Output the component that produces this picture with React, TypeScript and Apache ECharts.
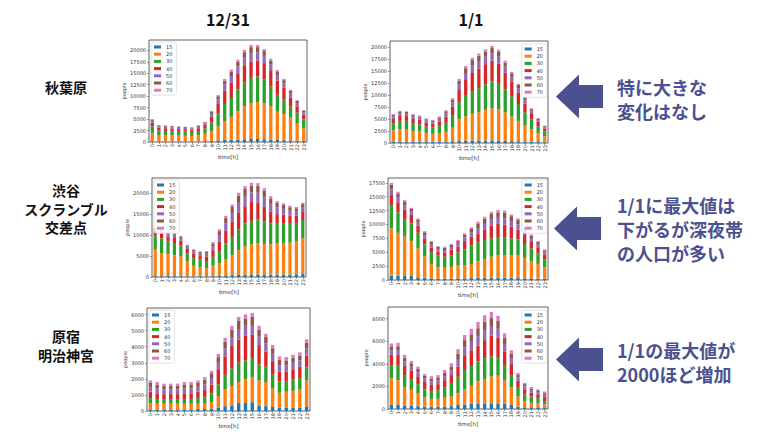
import React, { useEffect, useRef } from "react";
import * as echarts from "echarts";

const HOURS = ["0","1","2","3","4","5","6","7","8","9","10","11","12","13","14","15","16","17","18","19","20","21","22","23"];
const SERIES_NAMES = ["15", "20", "30", "40", "50", "60", "70"];
const COLORS = ["#1f77b4", "#ff7f0e", "#2ca02c", "#d62728", "#9467bd", "#8c564b", "#e377c2"];

// 秋葉原 12/31
const akiba1231_15 = [150,120,110,110,100,100,100,110,150,250,350,450,500,550,600,650,650,600,500,450,400,350,300,250];
const akiba1231_20 = [1850,1280,1300,1300,1300,1250,1200,1300,1650,2100,3050,4050,5000,6150,7200,7850,8050,7800,7300,6150,5700,4950,3700,2750];
const akiba1231_30 = [1400,1100,1000,1000,900,950,900,1000,1200,1900,2900,3800,4100,4800,5200,5500,5600,5300,4300,3700,3200,2400,2400,1900];
const akiba1231_40 = [800,600,600,500,500,500,500,600,700,1300,2000,2900,3300,3500,3600,3600,3500,3500,3400,3100,2500,2000,1400,1100];
const akiba1231_50 = [400,300,300,300,300,250,250,300,350,600,1000,1300,1500,1500,1800,1800,1700,1600,1400,1200,1000,900,700,500];
const akiba1231_60 = [300,250,250,250,250,200,200,250,250,500,700,900,1000,1000,1200,1300,1200,1100,900,800,700,600,500,350];
const akiba1231_70 = [100,70,70,70,70,70,60,70,100,150,250,350,400,450,500,500,450,400,350,300,250,200,150,100];

// 秋葉原 1/1
const akiba0101_15 = [300,300,300,300,250,250,250,250,300,350,450,450,500,500,500,550,500,450,400,350,300,250,200,150];
const akiba0101_20 = [2300,2600,2500,2200,2150,1850,1650,1750,2000,2850,4450,5050,5600,5900,6400,6650,6500,5950,5100,4250,3300,2650,1800,1250];
const akiba0101_30 = [1500,1700,1800,1500,1500,1300,1300,1500,1900,2600,3600,4300,4700,5000,5300,5600,5300,4700,4200,3500,2800,2000,1400,1000];
const akiba0101_40 = [900,1000,1000,1000,900,800,800,1000,1300,1800,2700,3300,3900,4100,4200,4300,4200,3500,3000,2400,1800,1300,1000,600];
const akiba0101_50 = [500,550,500,500,450,450,400,500,650,850,1050,1450,1500,1550,1550,1550,1450,1250,1050,900,700,500,400,300];
const akiba0101_60 = [350,400,350,350,300,300,300,350,450,600,750,1000,1050,1100,1100,1100,1000,850,750,650,500,350,300,200];
const akiba0101_70 = [150,150,150,150,150,150,100,150,200,250,300,450,450,450,450,450,450,400,300,250,200,150,100,100];

// 渋谷スクランブル交差点 12/31
const shibuya1231_15 = [200,200,200,200,200,150,150,150,150,200,300,400,450,500,550,600,600,600,600,600,600,600,650,700];
const shibuya1231_20 = [6300,5500,5300,5000,4800,3550,2550,2250,1950,2500,3000,3900,4750,5900,6750,7200,7400,7300,7200,7400,7500,7600,7850,8600];
const shibuya1231_30 = [3500,3500,3000,2900,2600,1900,1800,1800,1700,2100,2900,3700,4400,5000,5500,5600,5700,5400,5000,4700,4600,4500,4400,4300];
const shibuya1231_40 = [1000,1100,1200,1200,1100,1100,1000,800,1100,1600,2300,3000,3700,3900,4100,4500,4100,3500,2800,2300,2200,1900,1800,2100];
const shibuya1231_50 = [350,500,600,550,550,500,550,550,650,950,1450,1800,2000,2400,2400,2300,2300,2200,1850,1550,1350,1200,1000,1000];
const shibuya1231_60 = [250,350,400,400,400,350,400,400,450,650,1000,1250,1400,1700,1700,1600,1600,1550,1300,1100,950,850,700,700];
const shibuya1231_70 = [100,150,200,150,150,150,150,150,200,300,450,550,600,700,700,700,700,650,550,450,400,350,300,300];

// 渋谷スクランブル交差点 1/1
const shibuya0101_15 = [800,800,700,700,500,400,300,250,250,250,300,300,350,400,400,400,400,400,400,350,300,300,250,200];
const shibuya0101_20 = [8500,7700,7100,6300,5200,3900,2600,2050,1950,2050,2300,2300,2550,3000,3400,3800,4000,4100,4000,4050,3700,3100,2650,2100];
const shibuya0101_30 = [4200,3700,3200,3200,2800,2100,2100,2100,2000,2100,2400,2900,3300,3400,3400,3300,3200,3100,3100,2900,2500,2300,1900,1400];
const shibuya0101_40 = [1800,1800,1700,1500,1300,1000,800,700,700,1100,1000,1500,1600,1600,1800,2300,2500,2400,2100,1800,1600,1300,1100,900];
const shibuya0101_50 = [1000,850,750,600,600,650,550,450,500,450,550,650,750,950,1100,1100,1100,1100,1000,900,600,550,500,400];
const shibuya0101_60 = [900,750,700,500,500,550,500,400,450,400,450,550,700,850,950,1000,1000,1000,900,800,500,450,450,350];
const shibuya0101_70 = [300,300,250,200,200,200,150,150,150,150,200,200,250,300,350,400,400,400,300,300,200,200,150,150];

// 原宿明治神宮 12/31
const harajuku1231_15 = [100,100,100,100,100,100,100,120,120,150,200,300,350,500,500,550,350,300,250,200,200,200,200,250];
const harajuku1231_20 = [400,350,350,350,350,350,350,330,330,400,730,1040,1200,1300,1460,1570,1550,1500,1150,930,1000,1050,1140,1650];
const harajuku1231_30 = [300,300,250,250,250,300,300,350,400,550,720,910,1100,1200,1190,1180,1000,950,850,720,650,700,710,800];
const harajuku1231_40 = [400,350,350,350,350,350,350,400,450,550,900,1150,1400,1450,1550,1450,1200,950,850,600,600,650,700,750];
const harajuku1231_50 = [300,300,300,300,300,300,300,300,350,400,450,500,550,650,600,600,550,500,450,400,400,400,400,450];
const harajuku1231_60 = [250,250,230,230,230,250,250,250,300,300,350,400,450,500,450,500,400,400,350,350,300,300,300,350];
const harajuku1231_70 = [150,150,120,120,120,150,150,150,150,150,200,250,250,250,250,250,250,200,200,200,200,200,200,200];

// 原宿明治神宮 1/1
const harajuku0101_15 = [400,400,300,300,250,200,200,200,200,250,350,400,450,500,500,500,500,450,350,200,150,150,150,150];
const harajuku0101_20 = [2300,2150,1650,1400,1150,850,700,700,800,850,1050,1350,1600,1950,2150,2400,2450,2100,1600,900,550,400,330,250];
const harajuku0101_30 = [1200,1350,1000,900,800,700,700,750,900,1200,1450,1700,1750,1750,1850,1750,1650,1350,1050,850,600,550,470,300];
const harajuku0101_40 = [900,900,850,800,700,650,550,550,650,700,900,1250,1400,1400,1600,1850,1700,1200,1000,550,450,350,350,350];
const harajuku0101_50 = [400,400,400,350,350,300,300,300,350,400,600,750,750,850,900,850,800,650,500,300,250,200,200,200];
const harajuku0101_60 = [350,350,350,300,300,250,250,300,300,350,550,650,650,700,750,700,700,550,400,250,200,150,150,150];
const harajuku0101_70 = [250,300,250,200,200,150,200,200,250,300,400,450,500,550,550,550,450,400,300,150,100,150,100,150];

const CHART_DATA = [
  [akiba1231_15, akiba1231_20, akiba1231_30, akiba1231_40, akiba1231_50, akiba1231_60, akiba1231_70],
  [akiba0101_15, akiba0101_20, akiba0101_30, akiba0101_40, akiba0101_50, akiba0101_60, akiba0101_70],
  [shibuya1231_15, shibuya1231_20, shibuya1231_30, shibuya1231_40, shibuya1231_50, shibuya1231_60, shibuya1231_70],
  [shibuya0101_15, shibuya0101_20, shibuya0101_30, shibuya0101_40, shibuya0101_50, shibuya0101_60, shibuya0101_70],
  [harajuku1231_15, harajuku1231_20, harajuku1231_30, harajuku1231_40, harajuku1231_50, harajuku1231_60, harajuku1231_70],
  [harajuku0101_15, harajuku0101_20, harajuku0101_30, harajuku0101_40, harajuku0101_50, harajuku0101_60, harajuku0101_70],
];

const Y_MAX = [22260, 21210, 23625, 18375, 6405, 9030];
const Y_INTERVAL = [2500, 2500, 5000, 2500, 1000, 2000];

const COLUMN_TITLES = ["12/31", "1/1"];
const ROW_LABELS = [["秋葉原"], ["渋谷", "スクランブル", "交差点"], ["原宿", "明治神宮"]];
const NOTES = [
  ["特に大きな", "変化はなし"],
  ["1/1に最大値は", "下がるが深夜帯", "の人口が多い"],
  ["1/1の最大値が", "2000ほど増加"],
];

// layout (pixels)
const GRIDS = [
  { left: 149, top: 40, width: 158, height: 102 },
  { left: 390, top: 41, width: 158, height: 102 },
  { left: 152, top: 178, width: 154, height: 99 },
  { left: 388, top: 178, width: 160, height: 102 },
  { left: 147, top: 308, width: 163, height: 103 },
  { left: 388, top: 307, width: 160, height: 102 },
];
const LEGEND_POS: any[] = [
  { left: 151, top: 42 },
  { right: 221, top: 44 },
  { left: 154, top: 180 },
  { right: 221, top: 180 },
  { left: 149, top: 310 },
  { right: 221, top: 310 },
];

const ACCENT = "#4b5190";
const SMALL_FONT = "DejaVu Sans";
const JP_FONT = "Noto Sans CJK JP";

function arrowPoints(tipX: number, cy: number) {
  const headBack = tipX + 23;
  const right = tipX + 47;
  const hh = 22;
  const sh = 11.5;
  return [
    [tipX, cy],
    [headBack, cy - hh],
    [headBack, cy - sh],
    [right, cy - sh],
    [right, cy + sh],
    [headBack, cy + sh],
    [headBack, cy + hh],
  ];
}

export default function App() {
  const ref = useRef<HTMLDivElement>(null);

  useEffect(() => {
    if (!ref.current) return;
    const chart = echarts.init(ref.current, null, { renderer: "svg" });

    const grid = GRIDS.map((g) => ({
      ...g,
      show: true,
      borderColor: "#3a3a3a",
      borderWidth: 0.8,
      backgroundColor: "transparent",
      containLabel: false,
    }));

    const xAxis = GRIDS.map((_, i) => ({
      type: "category",
      gridIndex: i,
      data: HOURS,
      name: "time[h]",
      nameLocation: "middle",
      nameGap: 12,
      nameTextStyle: { fontSize: 5.5, fontFamily: SMALL_FONT, color: "#333" },
      axisLine: { show: false },
      axisTick: { show: true, alignWithLabel: true, length: 2, lineStyle: { color: "#444", width: 0.5 } },
      axisLabel: { interval: 0, rotate: 90, fontSize: 5, fontFamily: SMALL_FONT, color: "#333", margin: 2 },
    }));

    const yAxis = GRIDS.map((_, i) => ({
      type: "value",
      gridIndex: i,
      min: 0,
      max: Y_MAX[i],
      interval: Y_INTERVAL[i],
      name: "people",
      nameLocation: "middle",
      nameGap: 17,
      nameTextStyle: { fontSize: 5, fontFamily: SMALL_FONT, color: "#333" },
      axisLine: { show: false },
      axisTick: { show: true, length: 2, lineStyle: { color: "#444", width: 0.5 } },
      splitLine: { show: false },
      axisLabel: {
        fontSize: 5,
        fontFamily: SMALL_FONT,
        color: "#333",
        margin: 3,
        showMaxLabel: false,
        formatter: (v: number) => String(v),
      },
    }));

    const series: any[] = [];
    CHART_DATA.forEach((chartSeries, i) => {
      chartSeries.forEach((values, j) => {
        series.push({
          type: "bar",
          name: SERIES_NAMES[j],
          xAxisIndex: i,
          yAxisIndex: i,
          stack: "stack" + i,
          barWidth: "50%",
          data: values,
          itemStyle: { color: COLORS[j] },
        });
      });
    });

    const legend = LEGEND_POS.map((pos) => ({
      ...pos,
      data: SERIES_NAMES,
      orient: "vertical",
      icon: "rect",
      itemWidth: 7,
      itemHeight: 3,
      itemGap: 1.2,
      selectedMode: false,
      padding: [2, 4, 2, 3],
      borderColor: "#d0d0d0",
      borderWidth: 0.6,
      borderRadius: 2,
      backgroundColor: "rgba(255,255,255,0.85)",
      textStyle: { fontSize: 5, fontFamily: SMALL_FONT, color: "#333", lineHeight: 6 },
    }));

    const graphic: any[] = [];
    const colX = [228, 471];
    COLUMN_TITLES.forEach((t, i) => {
      graphic.push({
        type: "text",
        x: colX[i],
        y: 19,
        style: {
          text: t,
          fontSize: 16,
          fontWeight: "bold",
          fontFamily: JP_FONT,
          fill: "#111",
          align: "center",
          verticalAlign: "middle",
        },
      });
    });
    const rowY = [87, 190, 336];
    ROW_LABELS.forEach((lines, i) => {
      lines.forEach((t, k) => {
        graphic.push({
          type: "text",
          x: 66,
          y: rowY[i] + k * 18.5,
          style: {
            text: t,
            fontSize: 14,
            fontWeight: "bold",
            fontFamily: JP_FONT,
            fill: "#111",
            align: "center",
            verticalAlign: "middle",
          },
        });
      });
    });
    const arrowY = [96.5, 228.5, 359.5];
    const noteY = [87, 205, 350];
    NOTES.forEach((lines, i) => {
      graphic.push({
        type: "polygon",
        shape: { points: arrowPoints(i === 1 ? 554 : 556, arrowY[i]) },
        style: { fill: ACCENT },
      });
      lines.forEach((t, k) => {
        graphic.push({
          type: "text",
          x: 617,
          y: noteY[i] + k * 24,
          style: {
            text: t,
            fontSize: 18,
            fontWeight: "bold",
            fontFamily: JP_FONT,
            fill: ACCENT,
            align: "left",
            verticalAlign: "middle",
          },
        });
      });
    });

    chart.setOption({
      animation: false,
      backgroundColor: "#ffffff",
      grid,
      xAxis,
      yAxis,
      legend,
      series,
      graphic,
    });

    return () => chart.dispose();
  }, []);

  return (
    <div
      ref={ref}
      style={{ position: "fixed", left: 0, top: 0, width: 768, height: 432 }}
    />
  );
}
